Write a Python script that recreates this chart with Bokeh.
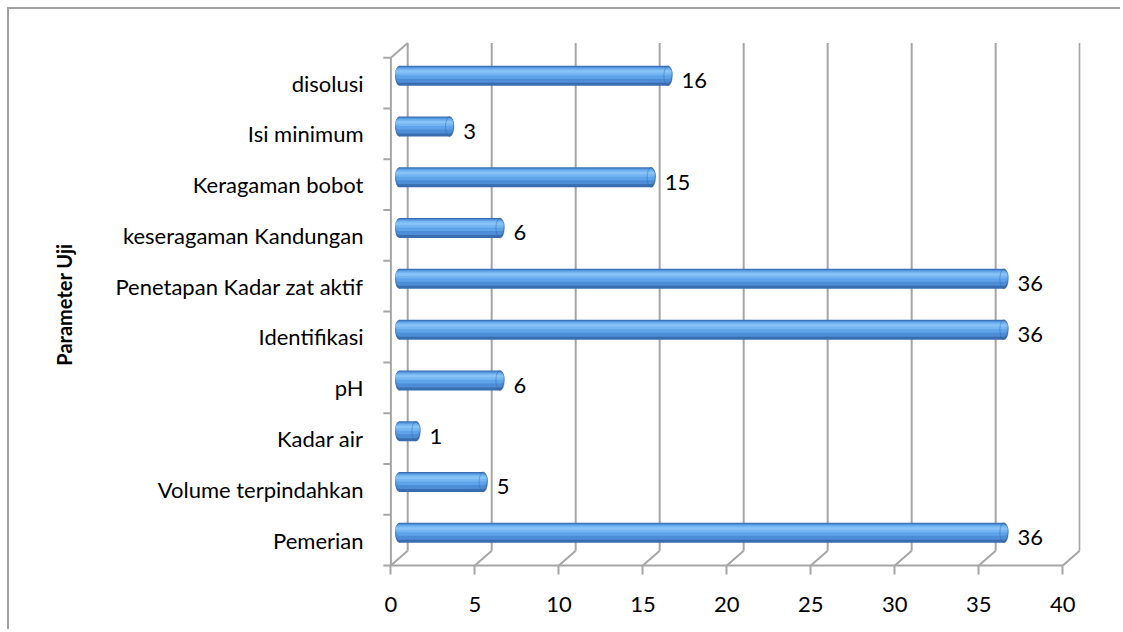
from bokeh.plotting import figure
from bokeh.models import Range1d, FixedTicker, ColumnDataSource
from bokeh.transform import dodge
from bokeh.core.properties import value
from bokeh.embed import file_html
from bokeh.resources import INLINE

# ---------------- data ----------------
categories = ["Pemerian", "Volume terpindahkan", "Kadar air", "pH", "Identifikasi",
              "Penetapan Kadar zat aktif", "keseragaman Kandungan", "Keragaman bobot",
              "Isi minimum", "disolusi"]
counts = [36, 5, 1, 6, 36, 36, 6, 15, 3, 16]
x_ticks = [0, 5, 10, 15, 20, 25, 30, 35, 40]
y_title = "Parameter Uji"

# ---------------- style constants ----------------
FONT = "Lato"
FS = "22px"
GRID = "#a6a6a6"
DX = 1.0      # 3D depth offset in x units
DY = 0.29     # 3D depth offset in category units
PXY = 50.8    # px per category (for bar layer sizing)
BAR_PX = 20.0

n = len(categories)
ypos = [i + 0.5 for i in range(n)]
src = ColumnDataSource(dict(cat=categories, y=ypos, val=counts,
                            label=[str(v) for v in counts]))

p = figure(width=1113, height=622, output_backend="svg", toolbar_location=None,
           x_range=Range1d(-0.5, 41.05), y_range=Range1d(-0.04, 10.32),
           min_border_left=373, min_border_right=42, min_border_top=32,
           min_border_bottom=64)
p.styles = {"margin-left": "7px", "margin-top": "7px",
            "border-left": "2px solid #a0a0a0", "border-top": "2px solid #a0a0a0"}
p.outline_line_color = None
p.xgrid.visible = False
p.ygrid.visible = False
p.background_fill_color = "white"
p.border_fill_color = "white"

# ---------------- 3D walls / grid ----------------
ticks_src = ColumnDataSource(dict(k=x_ticks))
# back wall gridlines
p.segment(x0=dodge("k", DX), y0=DY, x1=dodge("k", DX), y1=10 + DY,
          source=ticks_src, line_color=GRID, line_width=2)
# floor diagonals
p.segment(x0="k", y0=0, x1=dodge("k", DX), y1=DY,
          source=ticks_src, line_color=GRID, line_width=2)
# front axis line
p.segment(x0=[x_ticks[0]], y0=[0], x1=[x_ticks[-1]], y1=[0], line_color=GRID, line_width=2)
# left wall front edge and top diagonal
p.segment(x0=[0, 0], y0=[0, n], x1=[0, DX], y1=[n, n + DY], line_color=GRID, line_width=2)
# category boundary ticks
bnd = ColumnDataSource(dict(b=list(range(n + 1))))
p.segment(x0=-0.45, y0="b", x1=0, y1="b", source=bnd, line_color=GRID, line_width=2)

# ---------------- cylinder bars ----------------
layers = [(0, 20, "#3a6db0"), (1, 17, "#4d8dd6"), (2, 13, "#5fa4ea"),
          (3, 9.5, "#74b5f2"), (4.5, 7, "#88c3f6")]
for a, b, col in layers:
    off = DY / 2 + (BAR_PX / 2 - (a + b) / 2) / PXY
    h = (b - a) / PXY
    p.hbar(y=dodge("y", off), left=DX / 2, right=dodge("val", DX / 2), height=h,
           source=src, fill_color=col, line_color=None)
    p.ellipse(x=DX / 2, y=dodge("y", off), width=0.5, height=h, source=src,
              fill_color=col, line_color=None)
    p.ellipse(x=dodge("val", DX / 2), y=dodge("y", off), width=0.5, height=h, source=src,
              fill_color=col, line_color=None)
p.ellipse(x=dodge("val", DX / 2), y=dodge("y", DY / 2), width=0.5, height=BAR_PX / PXY,
          source=src, fill_color=None, line_color="#2e5e9e", line_width=1, line_alpha=0.4)

# value labels
p.text(x=dodge("val", 1.3), y=dodge("y", 0.05), text="label", source=src,
       text_font=value(FONT), text_font_size=FS, text_color="#000000",
       text_baseline="middle", text_align="left")

# ---------------- axes ----------------
xa = p.xaxis[0]
xa.ticker = FixedTicker(ticks=x_ticks)
xa.axis_line_color = None
xa.major_tick_in = 2
xa.major_tick_out = 7
xa.major_tick_line_color = GRID
xa.major_tick_line_width = 2
xa.minor_tick_line_color = None
xa.major_label_text_font = FONT
xa.major_label_text_font_size = FS
xa.major_label_text_color = "#000000"
xa.major_label_standoff = 22

ya = p.yaxis[0]
ya.ticker = FixedTicker(ticks=ypos)
ya.major_label_overrides = {y: c for y, c in zip(ypos, categories)}
ya.axis_line_color = None
ya.major_tick_line_color = None
ya.minor_tick_line_color = None
ya.major_tick_in = 0
ya.major_tick_out = 0
ya.major_label_standoff = 19
ya.major_label_text_font = FONT
ya.major_label_text_font_size = FS
ya.major_label_text_color = "#000000"
ya.axis_label = y_title
ya.axis_label_text_font = FONT
ya.axis_label_text_font_style = "bold"
ya.axis_label_text_font_size = "20px"
ya.axis_label_text_color = "#000000"
ya.axis_label_standoff = 36

open("out.html", "w").write(file_html(p, INLINE))
